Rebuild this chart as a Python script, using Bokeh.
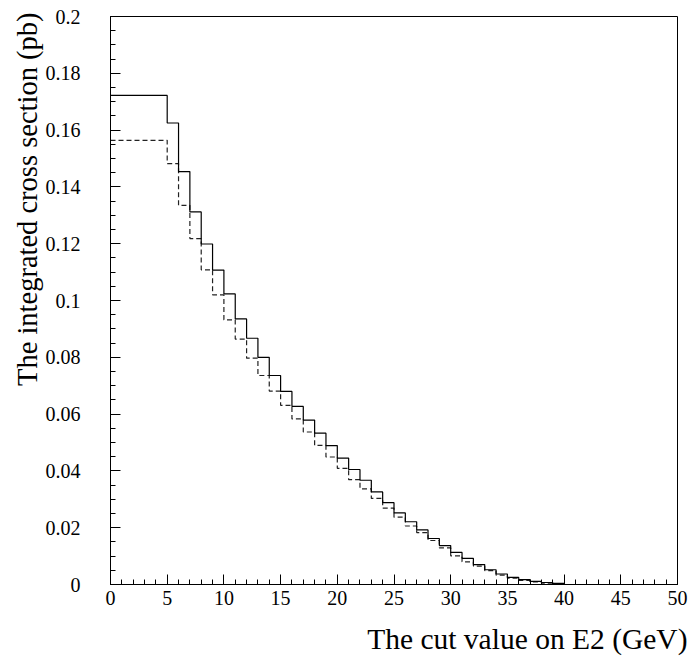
from bokeh.plotting import figure
from bokeh.models import Range1d, FixedTicker, CustomJSTickFormatter, Title
from bokeh.embed import file_html
from bokeh.resources import INLINE

# Bin edges (GeV): first bin 0-5, then 1 GeV bins up to 40, then empty up to 50
bin_edges = [0, 5] + list(range(6, 41)) + [50]

# Integrated cross section (pb), solid histogram
solid_values = [0.1722, 0.1625, 0.1454, 0.1312, 0.1199, 0.1107, 0.1023, 0.0935,
                0.0867, 0.0800, 0.0736, 0.0680, 0.0627, 0.0579, 0.0533, 0.0489,
                0.0445, 0.0405, 0.0367, 0.0326, 0.0288, 0.0252, 0.0221, 0.0192,
                0.0162, 0.0137, 0.0113, 0.0092, 0.0070, 0.0052, 0.0037, 0.0025,
                0.0017, 0.0011, 0.0007, 0.0004, 0.0]

# Integrated cross section (pb), dashed histogram
dashed_values = [0.1564, 0.1482, 0.1335, 0.1218, 0.1108, 0.1020, 0.0932, 0.0864,
                 0.0797, 0.0736, 0.0681, 0.0631, 0.0583, 0.0537, 0.0490, 0.0449,
                 0.0409, 0.0369, 0.0337, 0.0303, 0.0269, 0.0237, 0.0206, 0.0183,
                 0.0155, 0.0129, 0.0101, 0.0080, 0.0065, 0.0049, 0.0033, 0.0022,
                 0.0014, 0.0009, 0.0005, 0.0003, 0.0]

x_major_ticks = list(range(0, 51, 5))
x_minor_ticks = list(range(0, 51, 1))
y_major_ticks = [0, 0.02, 0.04, 0.06, 0.08, 0.1, 0.12, 0.14, 0.16, 0.18, 0.2]
y_minor_ticks = [i * 0.005 for i in range(0, 41)]

x_title = "The cut value on E2 (GeV)"
y_title = "The integrated cross section (pb)"

FONT = "Liberation Serif"

p = figure(frame_width=567, frame_height=568,
           x_range=Range1d(0, 50), y_range=Range1d(0, 0.2),
           output_backend="svg", toolbar_location=None,
           min_border_left=110, min_border_right=14,
           min_border_top=16, min_border_bottom=82)

p.background_fill_color = "white"
p.border_fill_color = "white"
p.outline_line_color = "black"
p.outline_line_width = 1
p.xgrid.visible = False
p.ygrid.visible = False

# histograms as step lines
sx = bin_edges
sy_solid = solid_values + [solid_values[-1]]
sy_dashed = dashed_values + [dashed_values[-1]]
p.step(sx, sy_dashed, mode="after", line_color="#222222", line_width=1.2,
       line_dash="5 3")
p.step(sx, sy_solid, mode="after", line_color="black", line_width=1.2)

for ax in (p.xaxis[0], p.yaxis[0]):
    ax.axis_line_color = "black"
    ax.major_tick_line_color = "black"
    ax.minor_tick_line_color = "black"
    ax.major_tick_in = 10
    ax.major_tick_out = 0
    ax.minor_tick_in = 5
    ax.minor_tick_out = 0
    ax.major_label_text_font = FONT
    ax.major_label_text_font_size = "20px"
    ax.major_label_text_color = "black"

p.xaxis[0].ticker = FixedTicker(ticks=x_major_ticks, minor_ticks=x_minor_ticks)
p.yaxis[0].ticker = FixedTicker(ticks=y_major_ticks, minor_ticks=y_minor_ticks)
p.yaxis[0].formatter = CustomJSTickFormatter(
    code="var s = tick.toFixed(2); s = s.replace(/0+$/, ''); s = s.replace(/\\.$/, ''); return s;")
p.xaxis[0].major_label_standoff = 6
p.yaxis[0].major_label_standoff = 30

p.add_layout(Title(text=y_title, align="right", text_font=FONT,
                   text_font_size="28.5px", text_font_style="normal",
                   text_color="black", offset=-4, standoff=0), "left")
p.add_layout(Title(text=x_title, align="right", text_font=FONT,
                   text_font_size="29.5px", text_font_style="normal",
                   text_color="black", offset=-10, standoff=27), "below")

open("out.html", "w").write(file_html(p, INLINE))
